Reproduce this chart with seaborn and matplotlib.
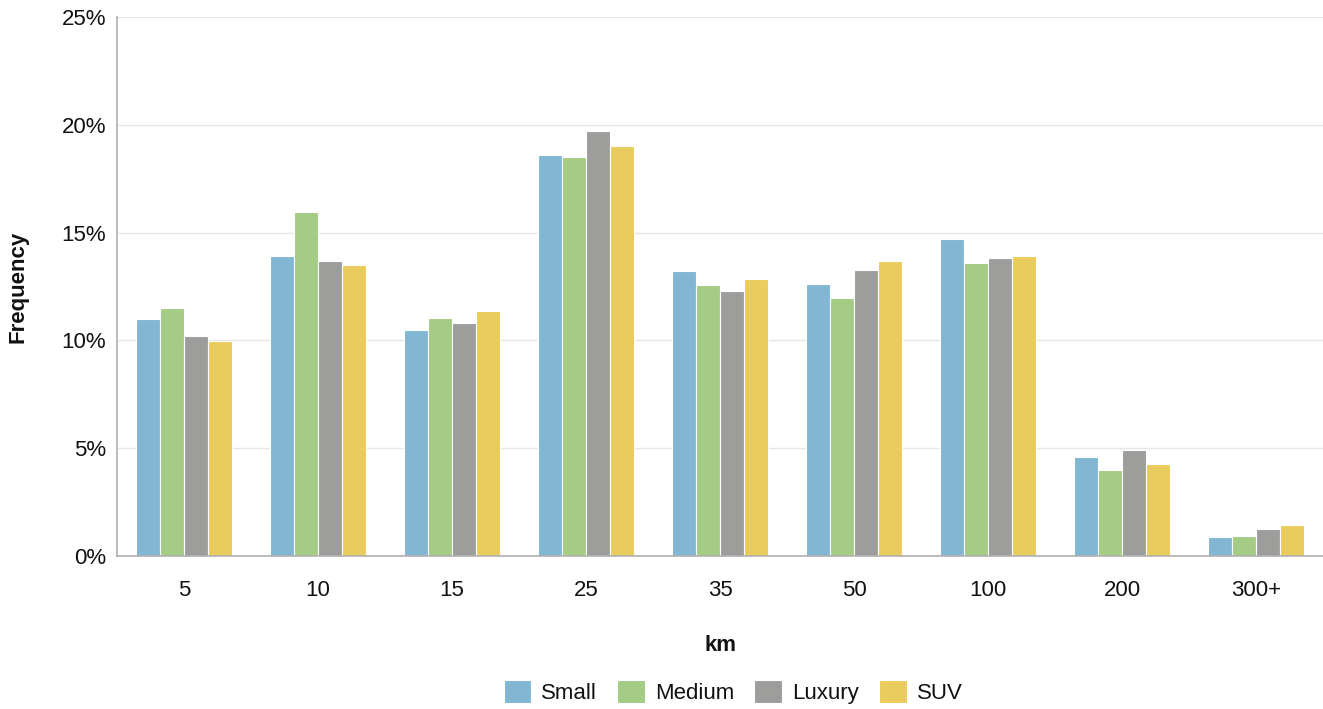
import matplotlib
matplotlib.use("Agg")
import matplotlib.pyplot as plt
import seaborn as sns
import pandas as pd
from matplotlib.ticker import FuncFormatter

distances = ["5", "10", "15", "25", "35", "50", "100", "200", "300+"]
car_types = ["Small", "Medium", "Luxury", "SUV"]
small = [11.0, 13.9, 10.5, 18.6, 13.2, 12.6, 14.7, 4.6, 0.87]
medium = [11.5, 15.95, 11.05, 18.5, 12.55, 11.97, 13.6, 3.98, 0.91]
luxury = [10.22, 13.7, 10.83, 19.72, 12.3, 13.26, 13.8, 4.9, 1.27]
suv = [9.95, 13.5, 11.38, 19.0, 12.84, 13.7, 13.93, 4.26, 1.46]
colors = ["#82b7d3", "#a4cc85", "#9d9d9b", "#eacc5e"]

rows = []
for name, vals in zip(car_types, [small, medium, luxury, suv]):
    for d, v in zip(distances, vals):
        rows.append({"km": d, "type": name, "freq": v})
df = pd.DataFrame(rows)

sns.set_theme(style="white")
plt.rcParams["font.family"] = ["Liberation Sans", "DejaVu Sans"]
plt.rcParams["text.color"] = "#111111"
plt.rcParams["axes.labelcolor"] = "#111111"

fig = plt.figure(figsize=(13.23, 7.09), dpi=100)
ax = fig.add_axes([117 / 1323, 1 - 556 / 709, 1206 / 1323, 539 / 709])

sns.barplot(data=df, x="km", y="freq", hue="type", order=distances,
            hue_order=car_types, palette=colors, width=0.72,
            edgecolor="white", linewidth=0.8, saturation=1, ax=ax)

ax.set_xlim(-0.5, len(distances) - 0.5)
ax.set_ylim(0, 25)
ax.set_yticks([0, 5, 10, 15, 20, 25])
ax.yaxis.set_major_formatter(FuncFormatter(lambda v, _: f"{v:.0f}%"))
ax.grid(axis="y", color="#e6e6e6", linewidth=1)
ax.set_axisbelow(True)
for side in ["top", "right"]:
    ax.spines[side].set_visible(False)
for side in ["left", "bottom"]:
    ax.spines[side].set_color("#b0b0b0")
    ax.spines[side].set_linewidth(1.2)
ax.tick_params(axis="both", length=0, labelsize=16, colors="#111111")
ax.tick_params(axis="x", pad=17)
ax.tick_params(axis="y", pad=8)

ax.set_xlabel("km", fontsize=16, fontweight="bold")
ax.xaxis.set_label_coords(0.5, -79 / 539)
ax.set_ylabel("Frequency", fontsize=16, fontweight="bold")
ax.yaxis.set_label_coords(-88 / 1206, 0.5)

ax.legend(loc="center", bbox_to_anchor=((733 - 117) / 1206, -136 / 539),
          ncol=4, frameon=False, fontsize=16, handlelength=1.25, handleheight=1.25,
          handletextpad=0.45, columnspacing=0.9)

fig.savefig("out.png", dpi=100)
